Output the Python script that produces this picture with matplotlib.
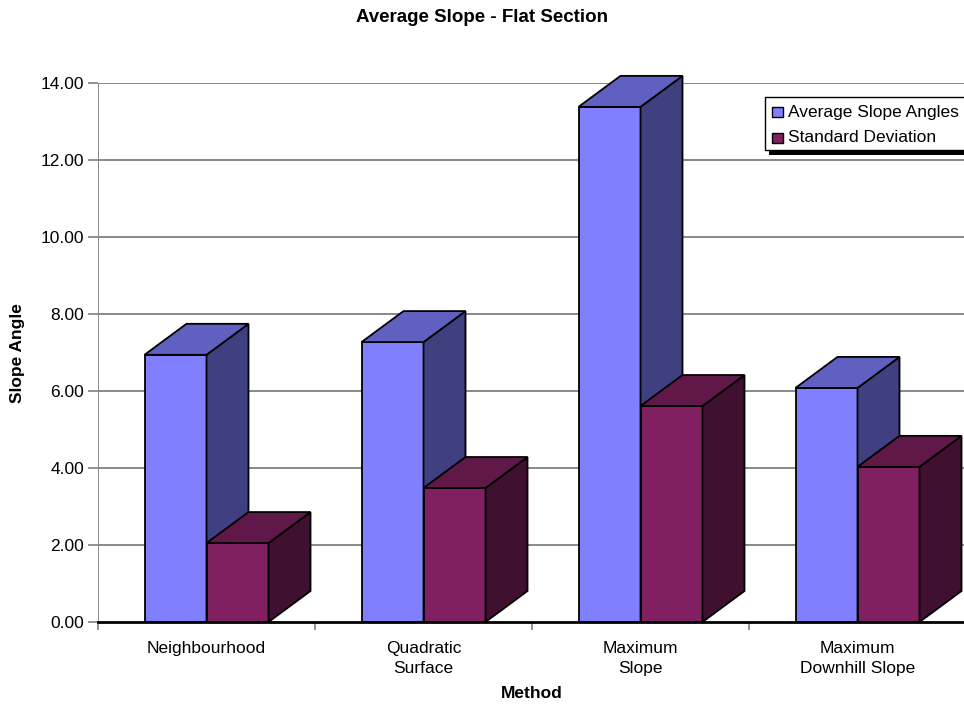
import matplotlib
matplotlib.use("Agg")
import matplotlib.pyplot as plt
from matplotlib.patches import Polygon, Rectangle
import numpy as np

plt.rcParams['font.family'] = ['Liberation Sans', 'DejaVu Sans']

categories = ["Neighbourhood", "Quadratic\nSurface", "Maximum\nSlope", "Maximum\nDownhill Slope"]
avg_slope = [6.94, 7.27, 13.38, 6.08]
std_dev = [2.05, 3.48, 5.61, 4.03]
series_names = ["Average Slope Angles", "Standard Deviation"]
yticks = [0, 2, 4, 6, 8, 10, 12, 14]

W, H = 964, 708
fig = plt.figure(figsize=(W / 100, H / 100), dpi=100)

def fx(x):
    return x / W

def fy(y):
    return 1 - y / H

ax_l, ax_r, ax_t, ax_b = 98, 966, 83, 622
ax = fig.add_axes([fx(ax_l), fy(ax_b), (ax_r - ax_l) / W, (ax_b - ax_t) / H])
ax.set_xlim(0, 4)
ax.set_ylim(0, 14)
for s in ax.spines.values():
    s.set_visible(False)

# gridlines
for v in yticks[1:]:
    ax.axhline(v, color="#808080", lw=1.3, zorder=1)
ax.axvline(0, color="#808080", lw=1.3, zorder=1)
ax.axhline(0, color="black", lw=2.0, zorder=6, clip_on=False)

ax.set_yticks(yticks)
ax.set_yticklabels([f"{v:.2f}" for v in yticks], fontsize=12.5)
ax.tick_params(axis="y", length=7, width=1.2, color="#808080", pad=3)

ax.set_xticks([0, 1, 2, 3, 4])
ax.set_xticklabels([])
ax.tick_params(axis="x", which="major", length=6, width=1.2, color="#808080", direction="out")
ax.set_xticks([0.5, 1.5, 2.5, 3.5], minor=True)
ax.set_xticklabels(categories, minor=True, fontsize=12.5, linespacing=1.45)
ax.tick_params(axis="x", which="minor", length=0, pad=13.5)

# 3D bars
px_per_cat = (ax_r - ax_l) / 4.0
px_per_unit = (ax_b - ax_t) / 14.0
ddx = 42 / px_per_cat
ddy = 31 / px_per_unit
bw = 62 / px_per_cat

colors = [("#8080FF", "#6060C0", "#404080"), ("#802060", "#601848", "#401030")]

def bar3d(x0, h, cols, z):
    front, top, side = cols
    kw = dict(edgecolor="black", lw=1.3, clip_on=False, joinstyle="miter")
    ax.add_patch(Polygon([(x0, 0), (x0 + bw, 0), (x0 + bw, h), (x0, h)], closed=True, facecolor=front, zorder=z, **kw))
    ax.add_patch(Polygon([(x0 + bw, 0), (x0 + bw + ddx, ddy), (x0 + bw + ddx, h + ddy), (x0 + bw, h)], closed=True, facecolor=side, zorder=z, **kw))
    ax.add_patch(Polygon([(x0, h), (x0 + bw, h), (x0 + bw + ddx, h + ddy), (x0 + ddx, h + ddy)], closed=True, facecolor=top, zorder=z, **kw))

for i in range(4):
    c = i + 0.5
    bar3d(c - bw, avg_slope[i], colors[0], 3)
    bar3d(c, std_dev[i], colors[1], 4)

# titles
fig.text(fx(482), fy(18), "Average Slope - Flat Section", ha="center", va="center", fontsize=13.5, fontweight="bold")
fig.text(fx(18), fy(353), "Slope Angle", ha="center", va="center", rotation=90, fontsize=12.5, fontweight="bold")
fig.text(fx(532), fy(694), "Method", ha="center", va="center", fontsize=12.5, fontweight="bold")

# legend with shadow
lx0, ly0, lx1, ly1 = 765, 97, 975, 150
fig.patches.append(Rectangle((fx(lx0 + 4), fy(ly1 + 5)), (lx1 - lx0) / W, (ly1 - ly0) / H,
                             transform=fig.transFigure, facecolor="black", edgecolor="none", zorder=9))
fig.patches.append(Rectangle((fx(lx0), fy(ly1)), (lx1 - lx0) / W, (ly1 - ly0) / H,
                             transform=fig.transFigure, facecolor="white", edgecolor="black", lw=1.0, zorder=10))
for k, (name, cols) in enumerate(zip(series_names, colors)):
    yc = 112 + k * 26
    fig.patches.append(Rectangle((fx(772), fy(yc + 5)), 11 / W, 10 / H, transform=fig.transFigure,
                                 facecolor=cols[0], edgecolor="black", lw=1.0, zorder=11))
    fig.text(fx(788), fy(yc), name, ha="left", va="center", fontsize=12.5, zorder=12)

fig.savefig("out.png", dpi=100)
